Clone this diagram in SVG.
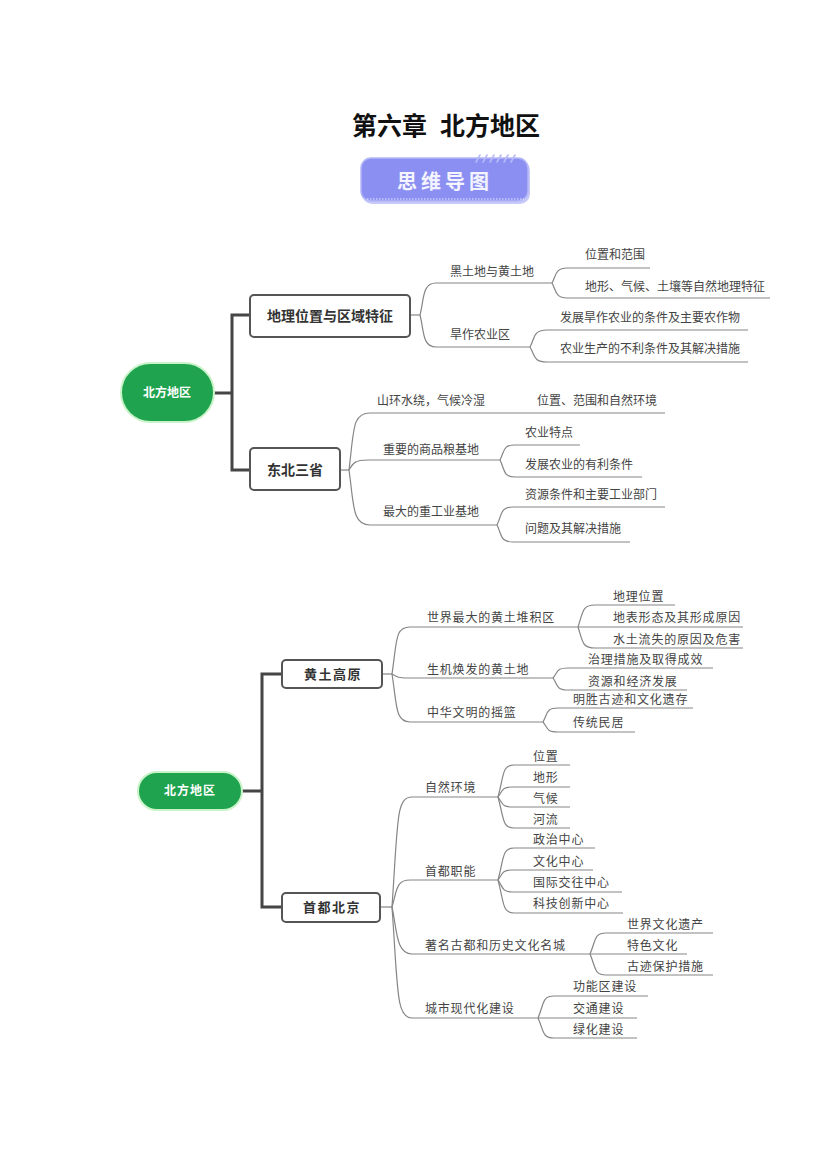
<svg xmlns="http://www.w3.org/2000/svg" width="827" height="1169" viewBox="0 0 827 1169">
<style>
  text { font-family: "Noto Sans CJK SC", "Noto Sans", sans-serif; }
  .t { font-size: 12px; fill: #444; }
  .t2 { font-size: 12px; fill: #444; letter-spacing: 0.8px; }
  .box { fill: #fff; stroke: #555; stroke-width: 2; }
  .bt { font-size: 14px; font-weight: bold; fill: #333; text-anchor: middle; }
  .bt2 { font-size: 13px; font-weight: bold; fill: #333; text-anchor: middle; letter-spacing: 1.5px; }
  .root { fill: #1fa34e; stroke: #c9f3c9; stroke-width: 2; }
  .rt { font-size: 12px; font-weight: bold; fill: #fff; text-anchor: middle; }
  .trunk { fill: none; stroke: #454545; stroke-width: 3; }
  .ln { fill: none; stroke: #858585; stroke-width: 1.2; }
</style>

<g id="title">
  <text x="352" y="135" font-size="25" font-weight="bold" fill="#111">第六章</text>
  <text x="540" y="135" font-size="25" font-weight="bold" fill="#111" text-anchor="end">北方地区</text>
</g>

<g id="banner">
  <rect x="362" y="160" width="168" height="44" rx="10" fill="#c7c9f7"/>
  <rect x="361" y="158" width="167" height="43" rx="10" fill="#8b8ff1" stroke="#b5b8f7" stroke-width="1.5"/>
  <g stroke="#b7baf8" stroke-width="1.6" stroke-linecap="round">
    <line x1="476" y1="162" x2="480" y2="155"/>
    <line x1="483" y1="162" x2="487" y2="155"/>
    <line x1="490" y1="162" x2="494" y2="155"/>
    <line x1="497" y1="162" x2="501" y2="155"/>
    <line x1="504" y1="162" x2="508" y2="155"/>
    <line x1="511" y1="162" x2="515" y2="155"/>
  </g>
  <line x1="367" y1="199" x2="524" y2="199" stroke="#eef" stroke-width="1.2" stroke-dasharray="1.5 1.5"/>
  <text x="445" y="189" font-size="20" font-weight="bold" fill="#f4f4ff" text-anchor="middle" letter-spacing="4">思维导图</text>
</g>

<!-- ============ Map 1 ============ -->
<g id="connectors1">
  <path class="trunk" d="M213,393 H232 M250,315 H232 V470 H250"/>
  <path class="ln" d="M409,315 H420"/>
  <path class="ln" d="M420,315 C424,300 422,283 436,283 H552"/>
  <path class="ln" d="M420,315 C424,330 422,347 436,347 H530"/>
  <path class="ln" d="M552,283 C556,276 555,268 567,268 H650"/>
  <path class="ln" d="M552,283 C556,290 555,298 567,298 H770"/>
  <path class="ln" d="M530,347 C535,338 533,330 547,330 H748"/>
  <path class="ln" d="M530,347 C535,355 533,362 547,362 H748"/>
  <path class="ln" d="M340,470 H349"/>
  <path class="ln" d="M349,470 C354,430 352,413 370,413 H665"/>
  <path class="ln" d="M349,470 C353,463 355,460 368,460 H500"/>
  <path class="ln" d="M349,470 C354,505 352,525 370,525 H497"/>
  <path class="ln" d="M500,460 C505,450 503,445 515,445 H580"/>
  <path class="ln" d="M500,460 C505,470 503,477 515,477 H642"/>
  <path class="ln" d="M497,525 C502,515 500,507 513,507 H665"/>
  <path class="ln" d="M497,525 C502,535 500,542 513,542 H630"/>
</g>

<g id="m1-root">
  <rect class="root" x="121" y="363" width="93" height="59" rx="29.5"/>
  <text class="rt" x="167" y="397">北方地区</text>
</g>
<g id="m1-box1">
  <rect class="box" x="250" y="295" width="160" height="42" rx="4"/>
  <text class="bt" x="330" y="321">地理位置与区域特征</text>
</g>
<g id="m1-box2">
  <rect class="box" x="250" y="448" width="90" height="42" rx="4"/>
  <text class="bt" x="295" y="475">东北三省</text>
</g>
<g id="m1-n1"><text class="t" x="450" y="276">黑土地与黄土地</text></g>
<g id="m1-n1a"><text class="t" x="585" y="259">位置和范围</text></g>
<g id="m1-n1b"><text class="t" x="585" y="291">地形、气候、土壤等自然地理特征</text></g>
<g id="m1-n2"><text class="t" x="450" y="339">旱作农业区</text></g>
<g id="m1-n2a"><text class="t" x="560" y="322">发展旱作农业的条件及主要农作物</text></g>
<g id="m1-n2b"><text class="t" x="560" y="353">农业生产的不利条件及其解决措施</text></g>
<g id="m1-n3"><text class="t" x="377" y="405">山环水绕，气候冷湿</text></g>
<g id="m1-n3a"><text class="t" x="537" y="405">位置、范围和自然环境</text></g>
<g id="m1-n4"><text class="t" x="383" y="454">重要的商品粮基地</text></g>
<g id="m1-n4a"><text class="t" x="525" y="437">农业特点</text></g>
<g id="m1-n4b"><text class="t" x="525" y="469">发展农业的有利条件</text></g>
<g id="m1-n5"><text class="t" x="383" y="516">最大的重工业基地</text></g>
<g id="m1-n5a"><text class="t" x="525" y="499">资源条件和主要工业部门</text></g>
<g id="m1-n5b"><text class="t" x="525" y="533">问题及其解决措施</text></g>

<!-- ============ Map 2 ============ -->
<g id="connectors2">
  <path class="trunk" d="M242,791 H262 M282,674 H262 V907 H282"/>
  <path class="ln" d="M382,674 H392"/>
  <path class="ln" d="M392,674 C397,640 395,627 410,627 H578"/>
  <path class="ln" d="M392,674 C397,677 398,678 408,678 H553"/>
  <path class="ln" d="M392,674 C397,705 395,722 410,722 H543"/>
  <path class="ln" d="M578,627 C583,612 582,605 595,605 H675"/>
  <path class="ln" d="M578,627 H743"/>
  <path class="ln" d="M578,627 C583,642 582,648 595,648 H743"/>
  <path class="ln" d="M553,678 C558,672 556,668 568,668 H713"/>
  <path class="ln" d="M553,678 C558,685 556,690 568,690 H687"/>
  <path class="ln" d="M543,722 C548,713 546,708 558,708 H693"/>
  <path class="ln" d="M543,722 C548,728 546,732 558,732 H635"/>
  <path class="ln" d="M380,907 H392"/>
  <path class="ln" d="M392,907 C398,820 396,797 412,797 H498"/>
  <path class="ln" d="M392,907 C397,890 396,880 410,880 H498"/>
  <path class="ln" d="M392,907 C397,930 396,954 412,954 H590"/>
  <path class="ln" d="M392,907 C398,990 396,1018 412,1018 H538"/>
  <path class="ln" d="M498,797 C504,775 502,765 514,765 H570"/>
  <path class="ln" d="M498,797 C503,790 502,787 512,787 H570"/>
  <path class="ln" d="M498,797 C503,804 502,807 512,807 H570"/>
  <path class="ln" d="M498,797 C504,818 502,828 514,828 H570"/>
  <path class="ln" d="M498,880 C504,858 502,848 514,848 H595"/>
  <path class="ln" d="M498,880 C503,873 502,870 512,870 H593"/>
  <path class="ln" d="M498,880 C503,887 502,892 512,892 H622"/>
  <path class="ln" d="M498,880 C504,902 502,913 514,913 H623"/>
  <path class="ln" d="M590,954 C596,940 594,933 606,933 H713"/>
  <path class="ln" d="M590,954 H687"/>
  <path class="ln" d="M590,954 C596,968 594,975 606,975 H713"/>
  <path class="ln" d="M538,1018 C544,1004 542,996 554,996 H648"/>
  <path class="ln" d="M538,1018 H637"/>
  <path class="ln" d="M538,1018 C544,1031 542,1038 554,1038 H637"/>
</g>

<g id="m2-root">
  <rect class="root" x="138" y="772" width="104" height="38" rx="19"/>
  <text class="rt" x="190" y="795" letter-spacing="1">北方地区</text>
</g>
<g id="m2-box1">
  <rect class="box" x="282" y="660" width="100" height="28" rx="4"/>
  <text class="bt2" x="333" y="679">黄土高原</text>
</g>
<g id="m2-box2">
  <rect class="box" x="282" y="893" width="98" height="29" rx="4"/>
  <text class="bt2" x="332" y="912">首都北京</text>
</g>
<g id="m2-a"><text class="t2" x="427" y="622">世界最大的黄土堆积区</text></g>
<g id="m2-a1"><text class="t2" x="613" y="601">地理位置</text></g>
<g id="m2-a2"><text class="t2" x="613" y="622">地表形态及其形成原因</text></g>
<g id="m2-a3"><text class="t2" x="613" y="644">水土流失的原因及危害</text></g>
<g id="m2-b"><text class="t2" x="427" y="674">生机焕发的黄土地</text></g>
<g id="m2-b1"><text class="t2" x="588" y="664">治理措施及取得成效</text></g>
<g id="m2-b2"><text class="t2" x="588" y="686">资源和经济发展</text></g>
<g id="m2-c"><text class="t2" x="427" y="717">中华文明的摇篮</text></g>
<g id="m2-c1"><text class="t2" x="573" y="704">明胜古迹和文化遗存</text></g>
<g id="m2-c2"><text class="t2" x="573" y="727">传统民居</text></g>
<g id="m2-d"><text class="t2" x="425" y="792">自然环境</text></g>
<g id="m2-d1"><text class="t2" x="533" y="761">位置</text></g>
<g id="m2-d2"><text class="t2" x="533" y="782">地形</text></g>
<g id="m2-d3"><text class="t2" x="533" y="803">气候</text></g>
<g id="m2-d4"><text class="t2" x="533" y="824">河流</text></g>
<g id="m2-e"><text class="t2" x="425" y="876">首都职能</text></g>
<g id="m2-e1"><text class="t2" x="533" y="844">政治中心</text></g>
<g id="m2-e2"><text class="t2" x="533" y="866">文化中心</text></g>
<g id="m2-e3"><text class="t2" x="533" y="887">国际交往中心</text></g>
<g id="m2-e4"><text class="t2" x="533" y="908">科技创新中心</text></g>
<g id="m2-f"><text class="t2" x="425" y="950">著名古都和历史文化名城</text></g>
<g id="m2-f1"><text class="t2" x="627" y="929">世界文化遗产</text></g>
<g id="m2-f2"><text class="t2" x="627" y="950">特色文化</text></g>
<g id="m2-f3"><text class="t2" x="627" y="971">古迹保护措施</text></g>
<g id="m2-g"><text class="t2" x="425" y="1013">城市现代化建设</text></g>
<g id="m2-g1"><text class="t2" x="573" y="991">功能区建设</text></g>
<g id="m2-g2"><text class="t2" x="573" y="1013">交通建设</text></g>
<g id="m2-g3"><text class="t2" x="573" y="1034">绿化建设</text></g>
</svg>
